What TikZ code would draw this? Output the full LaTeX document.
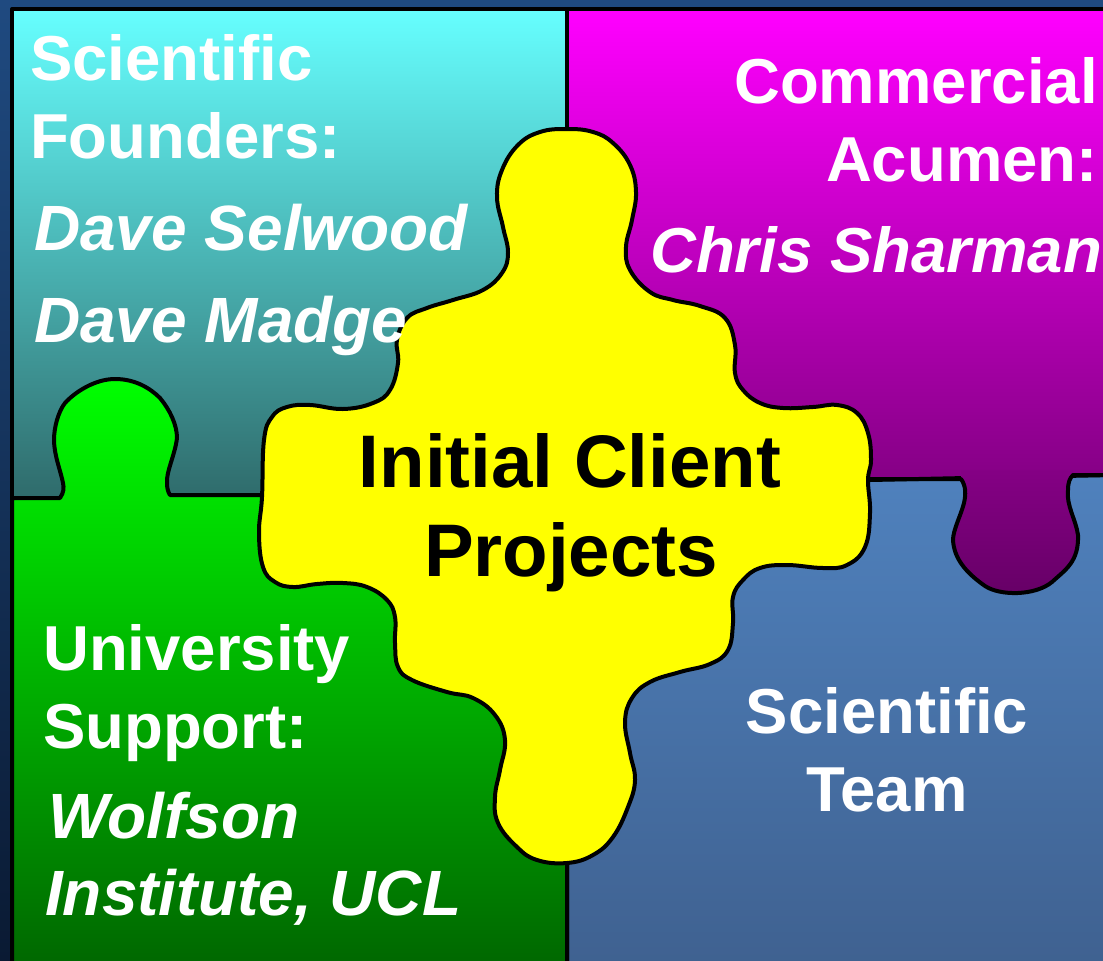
\documentclass[tikz,border=0pt]{standalone}
\usepackage{fontspec}
\setmainfont{Liberation Sans}
\definecolor{bgt}{HTML}{1F4A80}
\definecolor{bgb}{HTML}{0A1A33}
\definecolor{cyt}{HTML}{66FFFF}
\definecolor{cyb}{HTML}{2F6B6B}
\definecolor{mgt}{HTML}{FF00FF}
\definecolor{mgb}{HTML}{660066}
\definecolor{blt}{HTML}{4F81BD}
\definecolor{blb}{HTML}{3F6190}
\definecolor{grt}{HTML}{00FF00}
\definecolor{grb}{HTML}{006600}
\definecolor{piece}{RGB}{255,255,0}
\tikzset{
  panel/.style={draw=black,line width=4pt,line join=round},
  lab/.style={inner sep=0pt,text=white,font=\fontsize{63.5}{70}\selectfont\bfseries},
  person/.style={inner sep=0pt,text=white,font=\fontsize{64}{70}\selectfont\bfseries\itshape},
  headline/.style={inner sep=0pt,text=black,font=\fontsize{74.5}{80}\selectfont\bfseries}
}
\begin{document}
\begin{tikzpicture}[x=1pt,y=-1pt]
\useasboundingbox (0,0) rectangle (1103,961);
\shade[top color=bgt,bottom color=bgb] (0,0) rectangle (1103,961);
% cyan panel
\path[panel,top color=cyt,bottom color=cyb] (12,9) rectangle (567,498);
% magenta panel
\path[panel,top color=mgt,bottom color=mgb!80!mgt] (567,9) rectangle (1112,480);
% blue panel
\path[top color=blt,bottom color=blb,panel] (567,480) -- (870,480) -- (1112,475) -- (1112,970) -- (567,970) -- cycle;
% magenta tab over blue
\path[top color=mgb!80!mgt,bottom color=mgb] (961,470) -- (961,478)
  .. controls (966,486) and (966,494) .. (964,503)
  .. controls (961,515) and (953,530) .. (953,540)
  .. controls (954,558) and (965,572) .. (985,586)
  .. controls (1000,596) and (1035,596) .. (1052,582)
  .. controls (1065,570) and (1079,562) .. (1078,535)
  .. controls (1076,520) and (1066,505) .. (1068,490)
  .. controls (1068,482) and (1070,478) .. (1073,475) -- (1073,470) -- cycle;
\draw[panel] (870,479) -- (961,479)
  .. controls (966,486) and (966,494) .. (964,503)
  .. controls (961,515) and (953,530) .. (953,540)
  .. controls (954,558) and (965,572) .. (985,586)
  .. controls (1000,596) and (1035,596) .. (1052,582)
  .. controls (1065,570) and (1079,562) .. (1078,535)
  .. controls (1076,520) and (1066,505) .. (1068,490)
  .. controls (1068,482) and (1070,478) .. (1073,475)
  -- (1112,475);
% green panel
\path[panel,top color=grt,bottom color=grb] (12,498) -- (60,498)
  .. controls (64,492) and (64,488) .. (63,483)
  .. controls (61,472) and (54,455) .. (54,440)
  .. controls (54,428) and (58,412) .. (65,403)
  .. controls (75,392) and (95,379) .. (115,379)
  .. controls (135,379) and (150,388) .. (160,398)
  .. controls (170,410) and (177,425) .. (177,438)
  .. controls (175,455) and (166,472) .. (167,483)
  .. controls (167,488) and (168,492) .. (170,495)
  -- (265,495) -- (567,495) -- (567,970) -- (12,970) -- cycle;
% yellow puzzle piece
\draw[fill=piece,draw=black,line width=4pt,line join=round] plot[smooth cycle,tension=0.7] coordinates {
(567,129) (593,132) (613,143) (630,165) (636,192) (632,220) (626,247) (630,270) (650,292) (673,300)
(700,306) (725,318) (735,345) (735,373) (743,390) (760,403) (783,408) (813,407) (837,405) (857,413)
(868,433) (871,460) (868,480) (870,513) (865,547) (847,565) (823,568) (787,565) (760,568) (743,580)
(733,597) (733,623) (728,650) (710,664) (680,672) (650,682) (632,698) (625,722) (630,753) (635,780)
(628,807) (613,837) (593,855) (567,863) (537,860) (517,847) (498,823) (495,797) (500,770) (505,740)
(495,715) (473,698) (447,692) (412,680) (398,667) (395,643) (395,617) (387,600) (367,587) (343,583)
(317,584) (293,587) (275,582) (263,567) (259,533) (262,497) (264,440) (272,417) (287,407) (310,405)
(343,409) (373,403) (390,390) (398,363) (397,340) (407,318) (427,308) (453,300) (483,290) (502,273)
(508,253) (503,227) (497,197) (502,170) (518,145) (540,132)};
% text
\node[lab,anchor=base west] (t1) at (30,80) {Scientific};
\node[lab,anchor=base west] (t2) at (30,158) {Founders:};
\node[person,anchor=base west] (t3) at (34,250) {Dave Selwood};
\node[person,anchor=base west] (t4) at (34,342) {Dave Madge};
\node[lab,anchor=base east] (t5) at (1098,103) {Commercial};
\node[lab,anchor=base east] (t6) at (1098,181) {Acumen:};
\node[person,anchor=base west,font=\fontsize{63.5}{70}\selectfont\bfseries\itshape] (t7) at (650,272) {Chris Sharman};
\node[headline,anchor=base] (t8) at (570,487) {Initial Client};
\node[headline,anchor=base] (t9) at (571,576) {Projects};
\node[lab,anchor=base west] (t10) at (43,670) {University};
\node[lab,anchor=base west] (t11) at (43,748) {Support:};
\node[person,anchor=base west] (t12) at (48,838) {Wolfson};
\node[person,anchor=base west] (t13) at (45,915) {Institute, UCL};
\node[lab,anchor=base] (t14) at (887,733) {Scientific};
\node[lab,anchor=base] (t15) at (887,811) {Team};
\end{tikzpicture}
\end{document}
